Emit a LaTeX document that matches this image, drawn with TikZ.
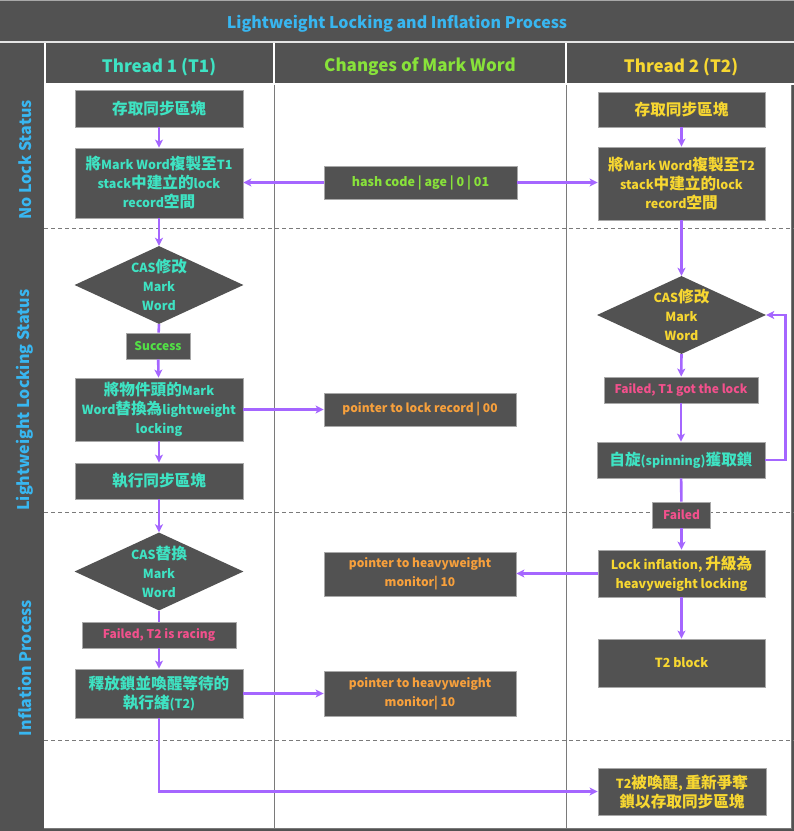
\documentclass[tikz,border=0pt]{standalone}
\usepackage{fontspec}
\setmainfont{Noto Sans CJK TC}
\newfontfamily\cjkf{Noto Sans CJK TC}[Scale=1.25]
\newcommand\cj[1]{{\cjkf\bfseries #1}}
\usetikzlibrary{shapes.geometric,arrows.meta}
\definecolor{dk}{HTML}{525252}
\definecolor{bline}{HTML}{A8A8A8}
\definecolor{gline}{HTML}{7A7A7A}
\definecolor{tblue}{HTML}{38B6F0}
\definecolor{tteal}{HTML}{3EE3C3}
\definecolor{tyel}{HTML}{F7D731}
\definecolor{tgreen}{HTML}{88E23A}
\definecolor{tsucc}{HTML}{52E046}
\definecolor{torange}{HTML}{F7A03C}
\definecolor{tpink}{HTML}{F2508C}
\definecolor{purp}{HTML}{A566FF}
\tikzset{
  box/.style={draw=bline, fill=dk, line width=0.8pt, inner sep=0pt, align=center,
    font=\bfseries\fontsize{12.5}{19}\selectfont},
  smallbox/.style={box, font=\bfseries\fontsize{12}{19}\selectfont},
  diam/.style={diamond, fill=dk, draw=none, inner sep=0pt, minimum width=169pt, minimum height=78pt},
  dtext/.style={align=center, font=\bfseries\fontsize{12.5}{19}\selectfont},
  arr/.style={draw=purp, line width=2.6pt, -{Stealth[length=8pt,width=8pt,inset=2pt]}},
  plain/.style={draw=purp, line width=2.6pt},
  lane/.style={rotate=90, text=tblue, font=\bfseries\fontsize{16}{18}\selectfont},
  hdr/.style={font=\bfseries\fontsize{17}{19}\selectfont},
}
\begin{document}
\begin{tikzpicture}[x=1pt,y=-1pt]
\useasboundingbox (0,0) rectangle (794,831);
% background
\fill[dk] (0,0) rectangle (794,831);
\draw[bline, line width=1pt] (0,0.5) -- (794,0.5);
\fill[white!85!dk] (0,41) rectangle (794,43);
% body
\fill[white] (44,84) rectangle (791,828);
\draw[gline, line width=1pt] (44,828) -- (791,828) -- (791,84);
\draw[gline, line width=1pt] (274,84) -- (274,828);
\draw[gline, line width=1pt] (566,84) -- (566,828);
% header separators
\draw[white, line width=2pt] (45,43) -- (45,84);
\draw[white, line width=2pt] (274,43) -- (274,84);
\draw[white, line width=2pt] (566,43) -- (566,84);
\draw[white, line width=1.5pt] (44,84) -- (794,84);
% dashed lane separators
\foreach \yy in {228,512,740}
  \draw[gline, line width=1pt, dash pattern=on 4pt off 3pt] (44,\yy) -- (794,\yy);
% title and headers
\node[text=tblue, hdr, font=\bfseries\fontsize{16}{18}\selectfont] (title) at (397,24) {Lightweight Locking and Inflation Process};
\node[text=tteal, hdr] (h1) at (159,67) {Thread 1 (T1)};
\node[text=tgreen, hdr] (h2) at (420,67) {Changes of Mark Word};
\node[text=tyel, hdr] (h3) at (681,67) {Thread 2 (T2)};
% lane labels
\node[lane] (l1) at (25,160) {No Lock Status};
\node[lane] (l2) at (25,400) {Lightweight Locking Status};
\node[lane] (l3) at (25,668) {Inflation Process};

% Thread 1
\node[box, text=tteal, minimum width=168pt, minimum height=37pt] (A1) at (159,108.5) {\cj{存取同步區塊}};
\node[box, text=tteal, minimum width=168pt, minimum height=70pt] (A2) at (159,183) {\cj{將}Mark Word\cj{複製至}T1\\stack\cj{中建立的}lock\\record\cj{空間}};
\node[diam, label={[dtext, text=tteal]center:CAS\cj{修改}\\Mark\\Word}] (D1) at (159,285) {};
\node[smallbox, text=tsucc, minimum width=64pt, minimum height=26pt] (Su) at (158,346) {Success};
\node[box, text=tteal, minimum width=168pt, minimum height=63pt] (B1) at (159,409.5) {\cj{將物件頭的}Mark\\Word\cj{替換為}lightweight\\locking};
\node[box, text=tteal, minimum width=168pt, minimum height=36pt] (B2) at (159,481) {\cj{執行同步區塊}};
\node[diam, label={[dtext, text=tteal]center:CAS\cj{替換}\\Mark\\Word}] (D2) at (159,571.5) {};
\node[smallbox, text=tpink, minimum width=154pt, minimum height=26pt] (FT2) at (159,635) {Failed, T2 is racing};
\node[box, text=tteal, minimum width=168pt, minimum height=49pt] (C1) at (159,693.5) {\cj{釋放鎖並喚醒等待的}\\\cj{執行緒}(T2)};

% Mark Word column
\node[box, text=tgreen, minimum width=193pt, minimum height=33pt] (M1) at (420.5,182.5) {hash code | age | 0 | 01};
\node[smallbox, text=torange, minimum width=192pt, minimum height=33pt] (M2) at (420,409.5) {pointer to lock record | 00};
\node[smallbox, text=torange, minimum width=192pt, minimum height=44pt] (M3) at (420,574) {pointer to heavyweight\\monitor| 10};
\node[smallbox, text=torange, minimum width=192pt, minimum height=45pt] (M4) at (420,693.5) {pointer to heavyweight\\monitor| 10};

% Thread 2
\node[box, text=tyel, minimum width=167pt, minimum height=35pt] (E1) at (681.5,109.5) {\cj{存取同步區塊}};
\node[box, text=tyel, minimum width=167pt, minimum height=73pt] (E2) at (681.5,183.5) {\cj{將}Mark Word\cj{複製至}T2\\stack\cj{中建立的}lock\\record\cj{空間}};
\node[diam, label={[dtext, text=tyel]center:CAS\cj{修改}\\Mark\\Word}] (D3) at (681.5,315) {};
\node[smallbox, text=tpink, minimum width=154pt, minimum height=26pt] (FT1) at (681,390) {Failed, T1 got the lock};
\node[box, text=tteal, minimum width=168pt, minimum height=36pt] (S) at (681,460) {\cj{自旋}(spinning)\cj{獲取鎖}};
\node[smallbox, text=tpink, minimum width=58pt, minimum height=26pt] (Fd) at (681.5,515) {Failed};
\node[box, text=tyel, minimum width=167pt, minimum height=47pt] (F1) at (681.5,573.5) {Lock inflation, \cj{升級為}\\heavyweight locking};
\node[box, text=tyel, minimum width=167pt, minimum height=48pt] (F2) at (681.5,663) {T2 block};
\node[box, text=tyel, minimum width=168pt, minimum height=47pt] (Fin) at (682,791.5) {T2\cj{被喚醒}, \cj{重新爭奪}\\\cj{鎖以存取同步區塊}};

% connectors T1
\draw[arr] (A1) -- (A2);
\draw[arr] (A2) -- (D1.north);
\draw[plain] (D1.south) -- (Su);
\draw[arr] (Su) -- (B1);
\draw[arr] (B1) -- (B2);
\draw[arr] (B2) -- (D2.north);
\draw[plain] (D2.south) -- (FT2);
\draw[arr] (FT2) -- (C1);
\draw[arr] (C1.south) |- (Fin.west);
\draw[arr] (C1.east) -- (C1.east -| M4.west);
% Mark Word connectors
\draw[arr] (M1.west) -- (M1.west -| A2.east);
\draw[arr] (M1.east) -- (M1.east -| E2.west);
\draw[arr] (B1.east) -- (B1.east -| M2.west);
\draw[arr] (F1.west) -- (F1.west -| M3.east);
% connectors T2
\draw[arr] (E1) -- (E2);
\draw[arr] (E2) -- (D3.north);
\draw[arr] (D3.south) -- (FT1);
\draw[arr] (FT1) -- (S);
\draw[arr] (S.east) -- ++(20,0) |- (D3.east);
\draw[plain] (S) -- (Fd);
\draw[arr] (Fd) -- (F1);
\draw[arr] (F1) -- (F2);
\end{tikzpicture}
\end{document}
